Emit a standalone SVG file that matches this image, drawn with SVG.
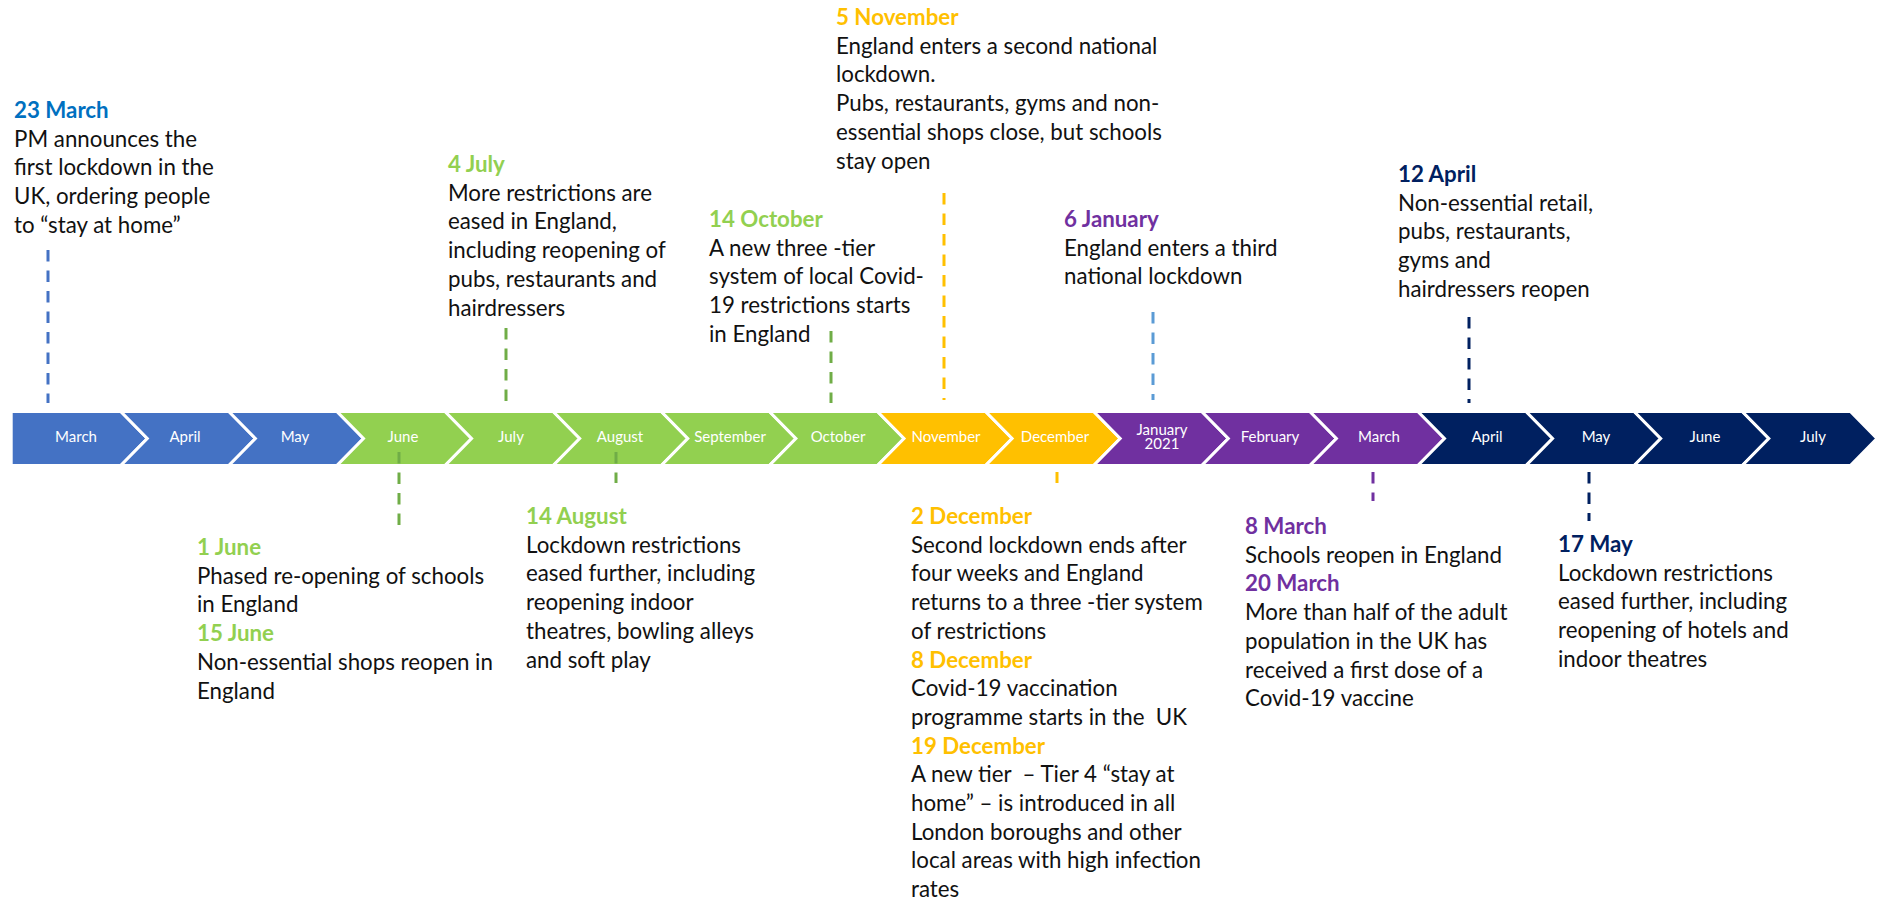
<svg xmlns="http://www.w3.org/2000/svg" width="1885" height="902" viewBox="0 0 1885 902">
  <style>
    .bg { fill: #ffffff; }
    .chev { stroke: #ffffff; stroke-width: 3; stroke-linejoin: miter; }
    .blue { fill: #4472C4; }
    .green { fill: #92D050; }
    .orange { fill: #FFC000; }
    .purple { fill: #7030A0; }
    .navy { fill: #002060; }
    .mon { font-family: Lato, "Liberation Sans", sans-serif; font-size: 15px; fill: #ffffff; text-anchor: middle; }
    .txt { font-family: Lato, "Liberation Sans", sans-serif; font-size: 22.3px; fill: #111111; }
    .hd { font-weight: bold; }
    .c-blue { fill: #0070C0; }
    .c-green { fill: #92D050; }
    .c-orange { fill: #FFC000; }
    .c-purple { fill: #7030A0; }
    .c-navy { fill: #002060; }
    .dash { fill: none; stroke-width: 3; stroke-dasharray: 11.5 9; }
    .d-blue { stroke: #4472C4; }
    .d-green { stroke: #70AD47; }
    .d-orange { stroke: #FFC000; }
    .d-lblue { stroke: #5B9BD5; }
    .d-purple { stroke: #7030A0; }
    .d-navy { stroke: #002060; }
  </style>

  <rect class="bg" x="0" y="0" width="1885" height="902"/>

  <!-- Month chevrons: pitch 108.1, arrow depth 26.5 -->
  <g id="timeline">
    <g id="m-2020-03"><path class="chev blue" d="M11.2,411.5 H120.8 L147.3,438.5 L120.8,465.5 H11.2 Z"/><text class="mon" x="76" y="441.5">March</text></g>
    <g id="m-2020-04"><path class="chev blue" d="M120.8,411.5 H228.9 L255.4,438.5 L228.9,465.5 H120.8 L147.3,438.5 Z"/><text class="mon" x="185" y="441.5">April</text></g>
    <g id="m-2020-05"><path class="chev blue" d="M228.9,411.5 H337 L363.5,438.5 L337,465.5 H228.9 L255.4,438.5 Z"/><text class="mon" x="295" y="441.5">May</text></g>
    <g id="m-2020-06"><path class="chev green" d="M337,411.5 H445.1 L471.6,438.5 L445.1,465.5 H337 L363.5,438.5 Z"/><text class="mon" x="403" y="441.5">June</text></g>
    <g id="m-2020-07"><path class="chev green" d="M445.1,411.5 H553.2 L579.7,438.5 L553.2,465.5 H445.1 L471.6,438.5 Z"/><text class="mon" x="511" y="441.5">July</text></g>
    <g id="m-2020-08"><path class="chev green" d="M553.2,411.5 H661.3 L687.8,438.5 L661.3,465.5 H553.2 L579.7,438.5 Z"/><text class="mon" x="620" y="441.5">August</text></g>
    <g id="m-2020-09"><path class="chev green" d="M661.3,411.5 H769.4 L795.9,438.5 L769.4,465.5 H661.3 L687.8,438.5 Z"/><text class="mon" x="730" y="441.5">September</text></g>
    <g id="m-2020-10"><path class="chev green" d="M769.4,411.5 H877.5 L904,438.5 L877.5,465.5 H769.4 L795.9,438.5 Z"/><text class="mon" x="838" y="441.5">October</text></g>
    <g id="m-2020-11"><path class="chev orange" d="M877.5,411.5 H985.6 L1012.1,438.5 L985.6,465.5 H877.5 L904,438.5 Z"/><text class="mon" x="946" y="441.5">November</text></g>
    <g id="m-2020-12"><path class="chev orange" d="M985.6,411.5 H1093.7 L1120.2,438.5 L1093.7,465.5 H985.6 L1012.1,438.5 Z"/><text class="mon" x="1055" y="441.5">December</text></g>
    <g id="m-2021-01"><path class="chev purple" d="M1093.7,411.5 H1201.8 L1228.3,438.5 L1201.8,465.5 H1093.7 L1120.2,438.5 Z"/><text class="mon" x="1162" y="434.5">January<tspan x="1162" y="449">2021</tspan></text></g>
    <g id="m-2021-02"><path class="chev purple" d="M1201.8,411.5 H1309.9 L1336.4,438.5 L1309.9,465.5 H1201.8 L1228.3,438.5 Z"/><text class="mon" x="1270" y="441.5">February</text></g>
    <g id="m-2021-03"><path class="chev purple" d="M1309.9,411.5 H1418 L1444.5,438.5 L1418,465.5 H1309.9 L1336.4,438.5 Z"/><text class="mon" x="1379" y="441.5">March</text></g>
    <g id="m-2021-04"><path class="chev navy" d="M1418,411.5 H1526.1 L1552.6,438.5 L1526.1,465.5 H1418 L1444.5,438.5 Z"/><text class="mon" x="1487" y="441.5">April</text></g>
    <g id="m-2021-05"><path class="chev navy" d="M1526.1,411.5 H1634.2 L1660.7,438.5 L1634.2,465.5 H1526.1 L1552.6,438.5 Z"/><text class="mon" x="1596" y="441.5">May</text></g>
    <g id="m-2021-06"><path class="chev navy" d="M1634.2,411.5 H1742.3 L1768.8,438.5 L1742.3,465.5 H1634.2 L1660.7,438.5 Z"/><text class="mon" x="1705" y="441.5">June</text></g>
    <g id="m-2021-07"><path class="chev navy" d="M1742.3,411.5 H1850.4 L1876.9,438.5 L1850.4,465.5 H1742.3 L1768.8,438.5 Z"/><text class="mon" x="1813" y="441.5">July</text></g>
  </g>

  <!-- Dashed leader lines from events to the timeline -->
  <g id="connectors">
    <line class="dash d-blue" x1="48" y1="250" x2="48" y2="403"/>
    <line class="dash d-green" x1="506" y1="328" x2="506" y2="403"/>
    <line class="dash d-green" x1="831" y1="331" x2="831" y2="403"/>
    <line class="dash d-orange" x1="944" y1="193" x2="944" y2="400"/>
    <line class="dash d-lblue" x1="1153" y1="312" x2="1153" y2="400"/>
    <line class="dash d-navy" x1="1469" y1="317" x2="1469" y2="403"/>
    <line class="dash d-green" x1="399" y1="452" x2="399" y2="527"/>
    <line class="dash d-green" x1="616" y1="452" x2="616" y2="483"/>
    <line class="dash d-orange" x1="1057" y1="472" x2="1057" y2="483"/>
    <line class="dash d-purple" x1="1373" y1="472" x2="1373" y2="501"/>
    <line class="dash d-navy" x1="1589" y1="472" x2="1589" y2="521"/>
  </g>

  <!-- Events above the timeline -->
  <g id="ev-23-march">
    <text class="txt"><tspan class="hd c-blue" x="14" y="118">23 March</tspan><tspan x="14" y="146.7">PM announces the</tspan><tspan x="14" y="175.4">first lockdown in the</tspan><tspan x="14" y="204.1">UK, ordering people</tspan><tspan x="14" y="232.8">to “stay at home”</tspan></text>
  </g>
  <g id="ev-4-july">
    <text class="txt"><tspan class="hd c-green" x="448" y="172">4 July</tspan><tspan x="448" y="200.7">More restrictions are</tspan><tspan x="448" y="229.4">eased in England,</tspan><tspan x="448" y="258.1">including reopening of</tspan><tspan x="448" y="286.8">pubs, restaurants and</tspan><tspan x="448" y="315.5">hairdressers</tspan></text>
  </g>
  <g id="ev-14-october">
    <text class="txt"><tspan class="hd c-green" x="709" y="227">14 October</tspan><tspan x="709" y="255.7">A new three -tier</tspan><tspan x="709" y="284.4">system of local Covid-</tspan><tspan x="709" y="313.1">19 restrictions starts</tspan><tspan x="709" y="341.8">in England</tspan></text>
  </g>
  <g id="ev-5-november">
    <text class="txt"><tspan class="hd c-orange" x="836" y="25">5 November</tspan><tspan x="836" y="53.7">England enters a second national</tspan><tspan x="836" y="82.4">lockdown.</tspan><tspan x="836" y="111.1">Pubs, restaurants, gyms and non-</tspan><tspan x="836" y="139.8">essential shops close, but schools</tspan><tspan x="836" y="168.5">stay open</tspan></text>
  </g>
  <g id="ev-6-january">
    <text class="txt"><tspan class="hd c-purple" x="1064" y="227">6 January</tspan><tspan x="1064" y="255.7">England enters a third</tspan><tspan x="1064" y="284.4">national lockdown</tspan></text>
  </g>
  <g id="ev-12-april">
    <text class="txt"><tspan class="hd c-navy" x="1398" y="182">12 April</tspan><tspan x="1398" y="210.7">Non-essential retail,</tspan><tspan x="1398" y="239.4">pubs, restaurants,</tspan><tspan x="1398" y="268.1">gyms and</tspan><tspan x="1398" y="296.8">hairdressers reopen</tspan></text>
  </g>

  <!-- Events below the timeline -->
  <g id="ev-june">
    <text class="txt"><tspan class="hd c-green" x="197" y="555">1 June</tspan><tspan x="197" y="583.7">Phased re-opening of schools</tspan><tspan x="197" y="612.4">in England</tspan><tspan class="hd c-green" x="197" y="641.1">15 June</tspan><tspan x="197" y="669.8">Non-essential shops reopen in</tspan><tspan x="197" y="698.5">England</tspan></text>
  </g>
  <g id="ev-14-august">
    <text class="txt"><tspan class="hd c-green" x="526" y="524">14 August</tspan><tspan x="526" y="552.7">Lockdown restrictions</tspan><tspan x="526" y="581.4">eased further, including</tspan><tspan x="526" y="610.1">reopening indoor</tspan><tspan x="526" y="638.8">theatres, bowling alleys</tspan><tspan x="526" y="667.5">and soft play</tspan></text>
  </g>
  <g id="ev-december">
    <text class="txt"><tspan class="hd c-orange" x="911" y="524">2 December</tspan><tspan x="911" y="552.7">Second lockdown ends after</tspan><tspan x="911" y="581.4">four weeks and England</tspan><tspan x="911" y="610.1">returns to a three -tier system</tspan><tspan x="911" y="638.8">of restrictions</tspan><tspan class="hd c-orange" x="911" y="667.5">8 December</tspan><tspan x="911" y="696.2">Covid-19 vaccination</tspan><tspan x="911" y="724.9">programme starts in the&#160; UK</tspan><tspan class="hd c-orange" x="911" y="753.6">19 December</tspan><tspan x="911" y="782.3">A new tier&#160; – Tier 4 “stay at</tspan><tspan x="911" y="811">home” – is introduced in all</tspan><tspan x="911" y="839.7">London boroughs and other</tspan><tspan x="911" y="868.4">local areas with high infection</tspan><tspan x="911" y="897.1">rates</tspan></text>
  </g>
  <g id="ev-march">
    <text class="txt"><tspan class="hd c-purple" x="1245" y="534">8 March</tspan><tspan x="1245" y="562.7">Schools reopen in England</tspan><tspan class="hd c-purple" x="1245" y="591.4">20 March</tspan><tspan x="1245" y="620.1">More than half of the adult</tspan><tspan x="1245" y="648.8">population in the UK has</tspan><tspan x="1245" y="677.5">received a first dose of a</tspan><tspan x="1245" y="706.2">Covid-19 vaccine</tspan></text>
  </g>
  <g id="ev-17-may">
    <text class="txt"><tspan class="hd c-navy" x="1558" y="552">17 May</tspan><tspan x="1558" y="580.7">Lockdown restrictions</tspan><tspan x="1558" y="609.4">eased further, including</tspan><tspan x="1558" y="638.1">reopening of hotels and</tspan><tspan x="1558" y="666.8">indoor theatres</tspan></text>
  </g>
</svg>
